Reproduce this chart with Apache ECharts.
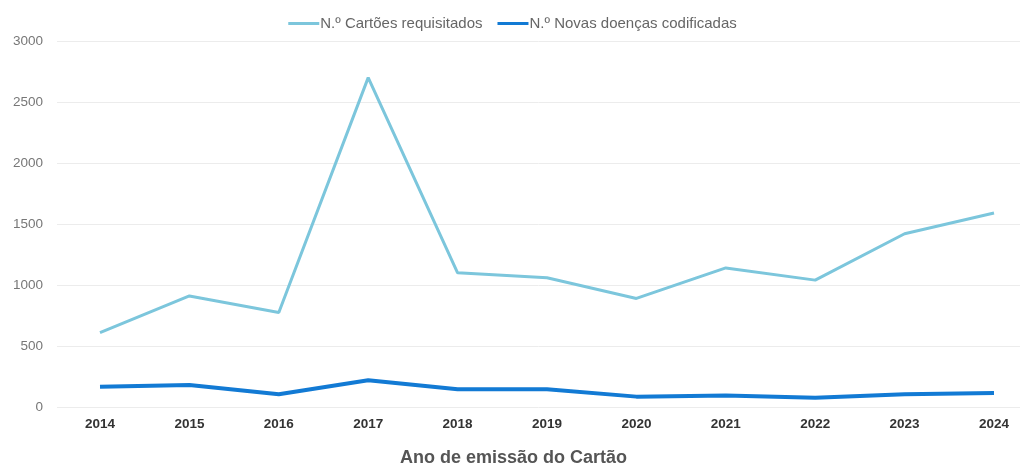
<!DOCTYPE html>
<html>
<head>
<meta charset="utf-8">
<script src="https://cdn.jsdelivr.net/npm/echarts@6/dist/echarts.min.js"></script>
<style>
  html, body { margin: 0; padding: 0; background: #ffffff; }
  #chart { width: 1025px; height: 464px; }
</style>
</head>
<body>
<div id="chart"></div>
<script>
// Years of card issue
const years = ['2014', '2015', '2016', '2017', '2018', '2019', '2020', '2021', '2022', '2023', '2024'];
// Cards requested per year
const cartoesRequisitados = [610, 910, 775, 2700, 1100, 1060, 890, 1140, 1040, 1420, 1590];
// Newly coded diseases per year
const novasDoencas = [165, 180, 105, 220, 145, 145, 85, 95, 75, 105, 115];
// Value axis range
const yMin = 0, yMax = 3000, yStep = 500;

const font = '"Liberation Sans", Arial, sans-serif';
const chart = echarts.init(document.getElementById('chart'));

chart.setOption({
  backgroundColor: '#ffffff',
  textStyle: { fontFamily: font },
  title: {
    text: 'Ano de emissão do Cartão',
    left: 395,
    bottom: -8,
    textStyle: { color: '#555555', fontSize: 18, fontWeight: 'bold', fontFamily: font }
  },
  legend: {
    top: 11,
    left: 'center',
    itemWidth: 31,
    itemHeight: 3,
    itemGap: 15,
    icon: 'rect',
    textStyle: { color: '#666666', fontSize: 15, fontFamily: font, padding: [0, 0, 0, -4] },
    data: ['N.º Cartões requisitados', 'N.º Novas doenças codificadas']
  },
  grid: [
    // wide grid: value labels and split lines
    { left: 57, right: 5, top: 41, bottom: 57, outerBoundsMode: 'none', containLabel: false },
    // plotting grid: first and last year at its edges
    { left: 100, right: 31, top: 41, bottom: 57, outerBoundsMode: 'none', containLabel: false }
  ],
  xAxis: [
    { gridIndex: 0, type: 'category', data: years, show: false },
    {
      gridIndex: 1,
      type: 'category',
      data: years,
      boundaryGap: false,
      axisLine: { show: false },
      axisTick: { show: false },
      axisLabel: { color: '#333333', fontSize: 13.5, fontWeight: 'bold', margin: 10, fontFamily: font }
    }
  ],
  yAxis: [
    {
      gridIndex: 0,
      type: 'value',
      min: yMin, max: yMax, interval: yStep,
      axisLine: { show: false },
      axisTick: { show: false },
      axisLabel: {
        color: '#777777', fontSize: 13.5, margin: 14, fontFamily: font,
        formatter: v => String(v)
      },
      splitLine: { lineStyle: { color: '#ececec', width: 1 } }
    },
    {
      gridIndex: 1,
      type: 'value',
      min: yMin, max: yMax, interval: yStep,
      show: false,
      splitLine: { show: false }
    }
  ],
  series: [
    {
      name: 'N.º Cartões requisitados',
      type: 'line',
      xAxisIndex: 1,
      yAxisIndex: 1,
      data: cartoesRequisitados,
      showSymbol: false,
      symbol: 'none',
      color: '#7cc6dc',
      lineStyle: { width: 3, color: '#7cc6dc' }
    },
    {
      name: 'N.º Novas doenças codificadas',
      type: 'line',
      xAxisIndex: 1,
      yAxisIndex: 1,
      data: novasDoencas,
      showSymbol: false,
      symbol: 'none',
      color: '#127ad4',
      lineStyle: { width: 4, color: '#127ad4' }
    }
  ]
});
</script>
</body>
</html>
